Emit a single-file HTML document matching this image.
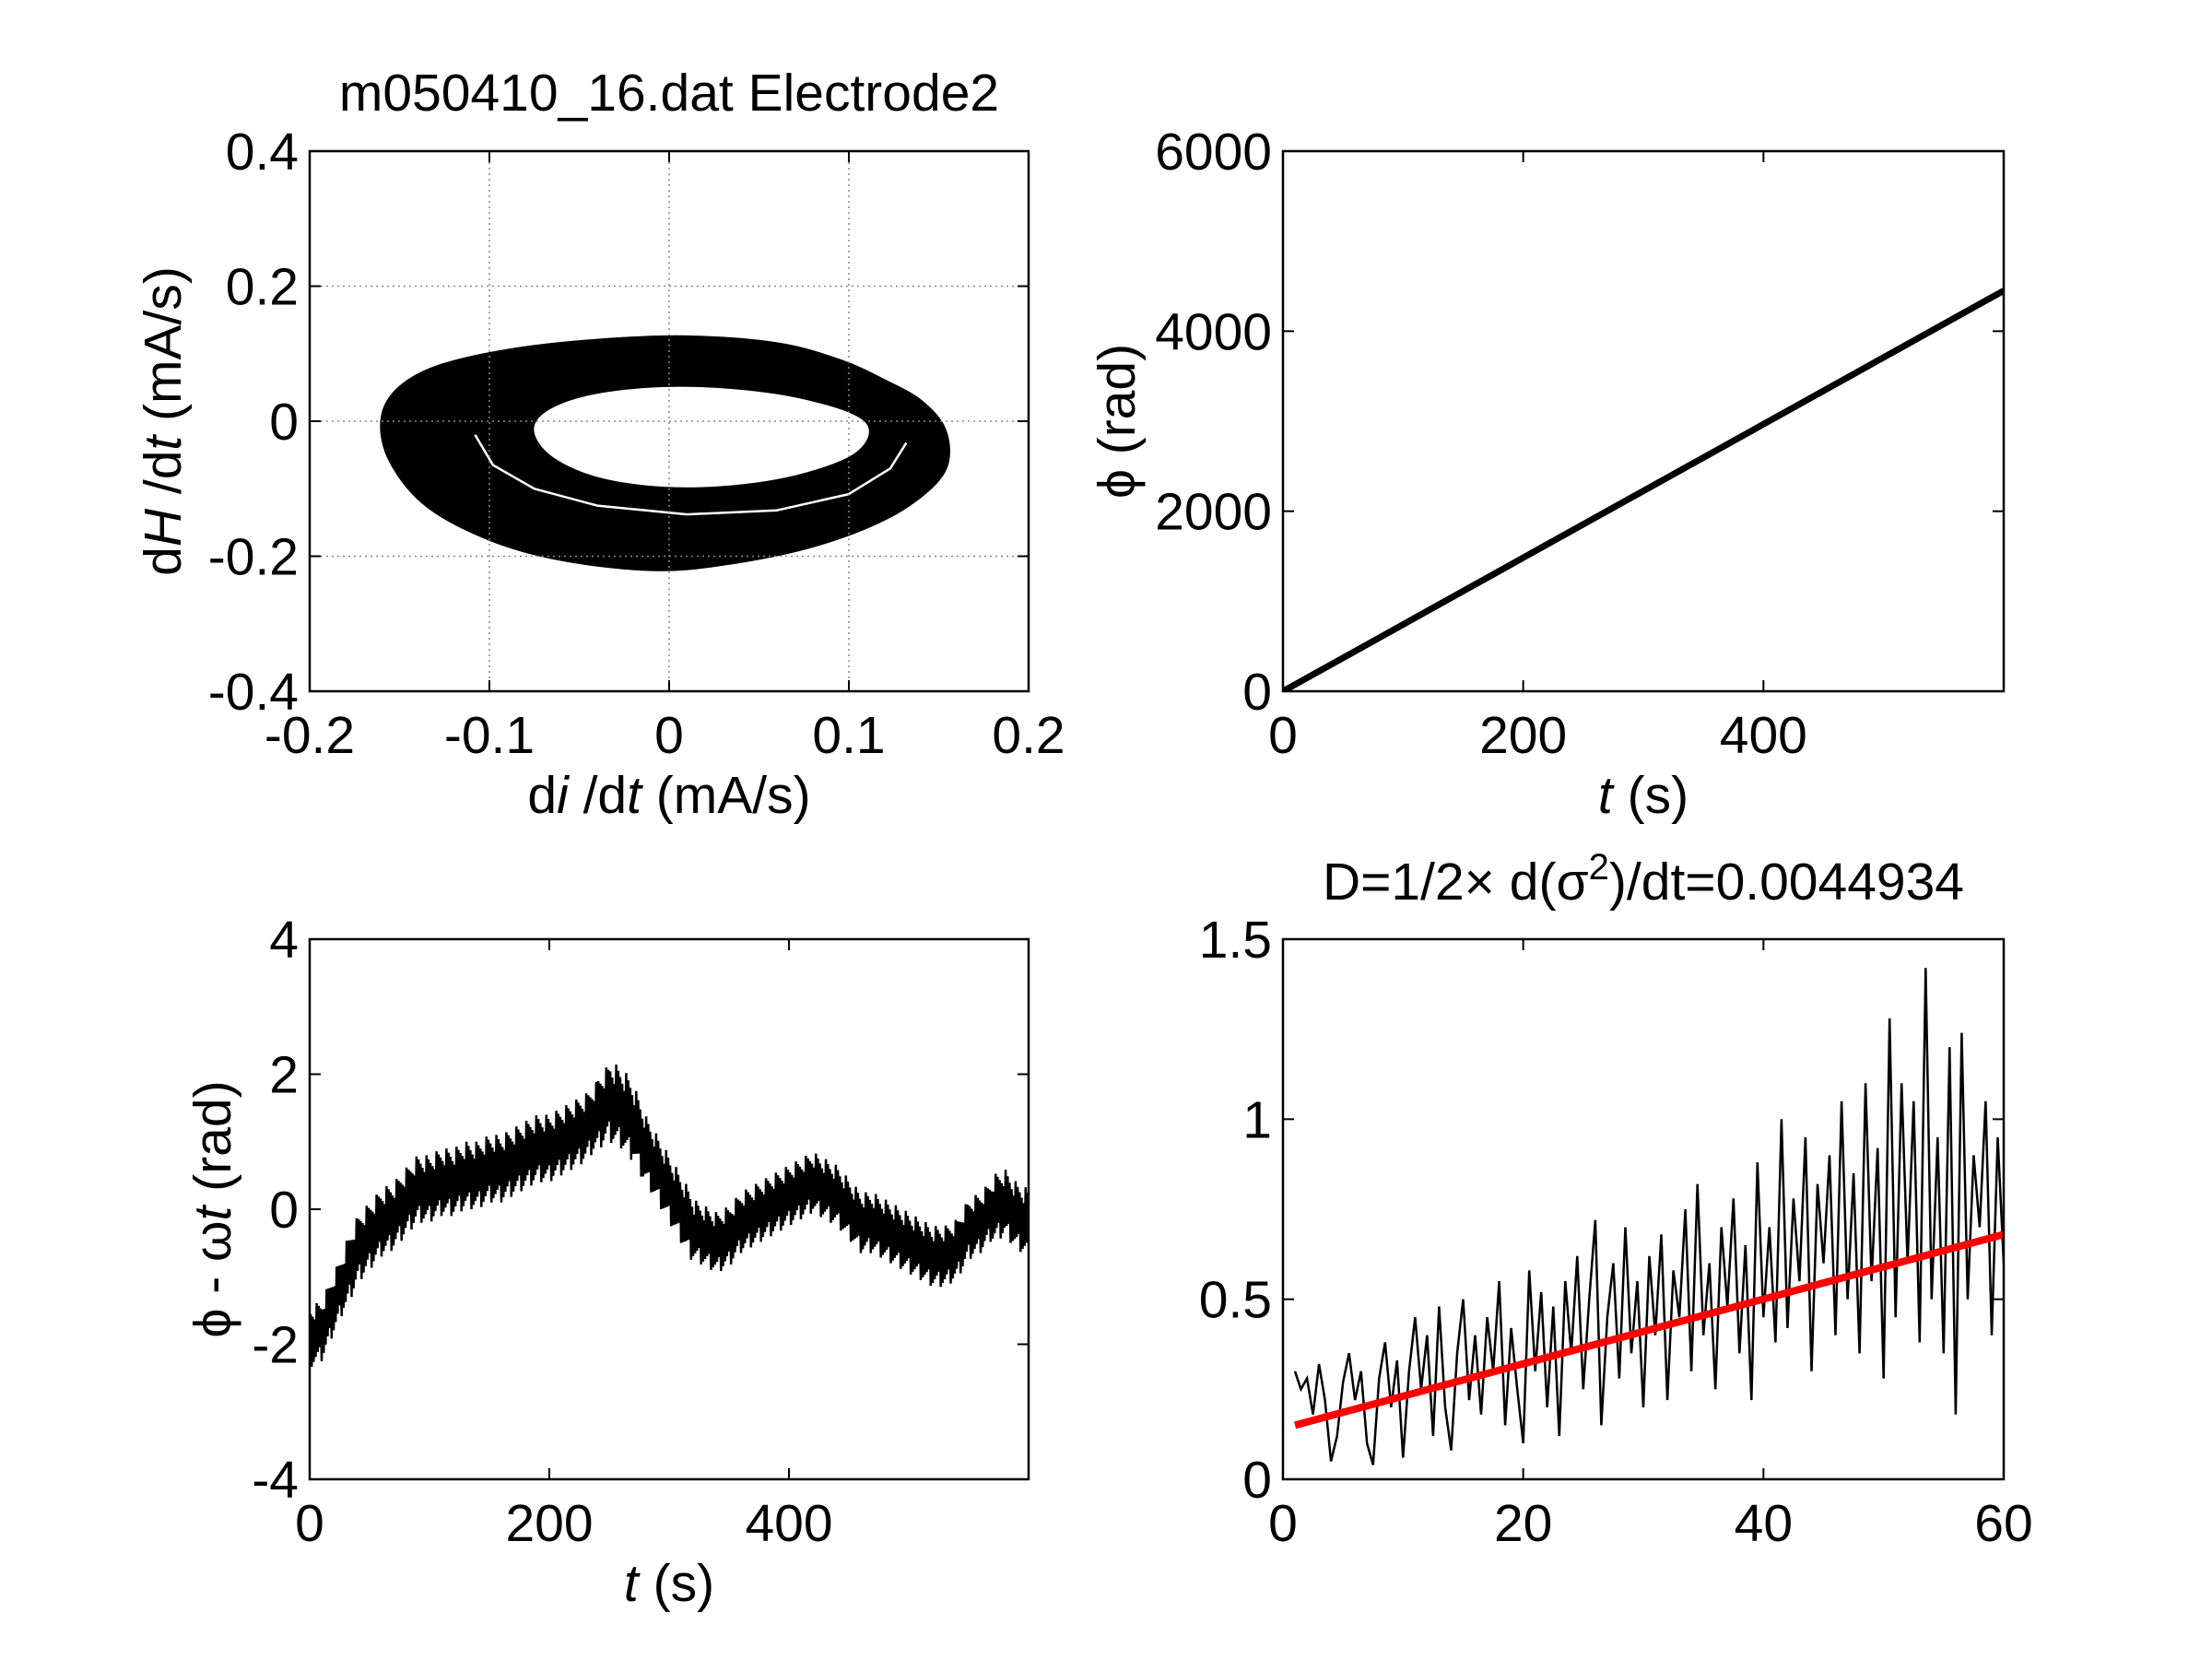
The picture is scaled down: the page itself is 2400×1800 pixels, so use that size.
<!DOCTYPE html>
<html><head><meta charset="utf-8">
<style>
html,body{margin:0;padding:0;background:#fff;}
svg{display:block;font-family:"Liberation Sans",Arial,sans-serif;}
</style></head>
<body>
<svg id="fig" width="2400" height="1800" viewBox="0 0 2400 1800">
  <rect width="2400" height="1800" fill="#fff"/>
  <text x="726" y="120" font-size="57" text-anchor="middle">m050410_16.dat Electrode2</text>
  <text x="1783" y="976" font-size="57" text-anchor="middle">D=1/2× d(σ<tspan dy="-22" font-size="40">2</tspan><tspan dy="22">)/dt=0.0044934</tspan></text>
  <text x="726" y="882" font-size="57" text-anchor="middle">d<tspan font-style="italic">i</tspan> /d<tspan font-style="italic">t</tspan> (mA/s)</text>
  <text x="1783" y="882" font-size="57" text-anchor="middle"><tspan font-style="italic">t</tspan> (s)</text>
  <text x="726" y="1737" font-size="57" text-anchor="middle"><tspan font-style="italic">t</tspan> (s)</text>
  <text transform="translate(196,457) rotate(-90)" font-size="57" text-anchor="middle">d<tspan font-style="italic">H</tspan> /d<tspan font-style="italic">t</tspan> (mA/s)</text>
  <text transform="translate(1231,457) rotate(-90)" font-size="57" text-anchor="middle">ϕ (rad)</text>
  <text transform="translate(250,1312) rotate(-90)" font-size="57" text-anchor="middle">ϕ - ω<tspan font-style="italic">t</tspan> (rad)</text>
  <g id="plots"></g>
</svg>
<script>
// ---- data ----
const ringOuterX = [-0.160,-0.152,-0.130,-0.090,-0.040,0.010,0.060,0.095,0.120,0.140,0.153,0.155,0.145,0.120,0.080,0.030,-0.010,-0.060,-0.100,-0.135,-0.155];
const ringOuterY = [0.000,0.045,0.080,0.105,0.120,0.125,0.115,0.090,0.060,0.030,-0.010,-0.060,-0.100,-0.145,-0.185,-0.212,-0.220,-0.205,-0.175,-0.125,-0.060];
const ringInnerX = [-0.076,-0.065,-0.035,0.010,0.060,0.100,0.112,0.100,0.060,0.010,-0.035,-0.065];
const ringInnerY = [-0.012,0.022,0.045,0.053,0.042,0.015,-0.015,-0.055,-0.088,-0.100,-0.088,-0.055];
const gapX = [-0.108,-0.098,-0.075,-0.040,0.010,0.060,0.100,0.123,0.132];
const gapY = [-0.020,-0.065,-0.100,-0.125,-0.138,-0.132,-0.108,-0.070,-0.032];
const phiT = [0, 600];
const phiV = [0, 4450];
const detT = [0,10,20,30,40,50,60,70,80,90,100,110,120,130,140,150,160,170,180,190,200,210,220,230,240,250,260,270,280,290,300,310,320,330,340,350,360,370,380,390,400,410,420,430,440,450,460,470,480,490,500,510,520,530,540,550,560,570,580,590,600];
const detV = [-1.9,-1.8,-1.4,-1.0,-0.6,-0.4,-0.2,-0.1,0.1,0.3,0.3,0.4,0.4,0.5,0.5,0.6,0.6,0.7,0.8,0.9,0.9,1.0,1.1,1.2,1.4,1.6,1.5,1.3,0.9,0.6,0.3,0.0,-0.3,-0.4,-0.5,-0.4,-0.2,-0.1,0.0,0.1,0.2,0.3,0.4,0.3,0.2,0.0,-0.2,-0.2,-0.3,-0.4,-0.5,-0.6,-0.7,-0.7,-0.6,-0.3,-0.2,0.0,0.1,-0.1,-0.2];
const detAmp = [0.45,0.45,0.45,0.5,0.5,0.5,0.5,0.5,0.5,0.5,0.5,0.5,0.5,0.5,0.5,0.5,0.5,0.5,0.5,0.5,0.5,0.5,0.5,0.5,0.55,0.6,0.6,0.55,0.5,0.5,0.5,0.5,0.45,0.45,0.45,0.45,0.45,0.45,0.45,0.45,0.45,0.45,0.45,0.45,0.45,0.45,0.45,0.45,0.45,0.45,0.45,0.45,0.45,0.45,0.45,0.45,0.45,0.5,0.5,0.5,0.5];
const msdV = [0.30,0.25,0.28,0.18,0.32,0.22,0.05,0.12,0.27,0.35,
0.22,0.30,0.10,0.04,0.28,0.38,0.20,0.33,0.06,0.30,
0.45,0.25,0.40,0.12,0.48,0.20,0.08,0.35,0.50,0.22,
0.40,0.18,0.45,0.30,0.55,0.15,0.42,0.25,0.10,0.58,
0.30,0.52,0.20,0.48,0.12,0.55,0.35,0.62,0.25,0.50,
0.72,0.15,0.45,0.60,0.28,0.70,0.35,0.55,0.20,0.62,
0.40,0.68,0.22,0.58,0.45,0.75,0.30,0.82,0.40,0.60,
0.25,0.70,0.48,0.78,0.35,0.65,0.22,0.88,0.45,0.70,
0.38,1.00,0.42,0.78,0.55,0.95,0.30,0.82,0.60,0.90,
0.40,1.05,0.50,0.85,0.35,1.10,0.55,0.92,0.28,1.28,
0.45,1.10,0.60,1.05,0.38,1.42,0.50,0.95,0.35,1.20,
0.18,1.24,0.50,0.90,0.70,1.05,0.40,0.95,0.60];
const msdT0 = 1, msdDT = 0.5;
const fitT = [1, 60];
const fitV = [0.15, 0.68];
const tlXTicks = [-0.2,-0.1,0,0.1,0.2], tlXLabels = ["-0.2","-0.1","0","0.1","0.2"];
const tlYTicks = [-0.4,-0.2,0,0.2,0.4], tlYLabels = ["-0.4","-0.2","0","0.2","0.4"];
const trXTicks = [0,200,400], trXLabels = ["0","200","400"];
const trYTicks = [0,2000,4000,6000], trYLabels = ["0","2000","4000","6000"];
const blYTicks = [-4,-2,0,2,4], blYLabels = ["-4","-2","0","2","4"];
const brXTicks = [0,20,40,60], brXLabels = ["0","20","40","60"];
const brYTicks = [0,0.5,1,1.5], brYLabels = ["0","0.5","1","1.5"];

const NS = "http://www.w3.org/2000/svg";
const root = document.getElementById('plots');
function mk(tag, attrs, parent){ const e=document.createElementNS(NS,tag); for(const k in attrs) e.setAttribute(k,attrs[k]); (parent||root).appendChild(e); return e; }

function axes(name, L, R, T, B, xmin, xmax, ymin, ymax, xt, xl, yt, yl, grid){
  const sx = v => L + (v-xmin)/(xmax-xmin)*(R-L);
  const sy = v => B - (v-ymin)/(ymax-ymin)*(B-T);
  const g = mk('g',{});
  
  
  const data = mk('g',{'clip-path':'url(#clip-'+name+')'}, g);
  const cp = mk('clipPath',{id:'clip-'+name}, g); mk('rect',{x:L,y:T,width:R-L,height:B-T},cp);
  const frame = mk('g',{}, g);
  xt.forEach((v,i)=>{
    const x=sx(v);
    if(grid){ const gl=mk('line',{x1:x,x2:x,y1:T,y2:B,stroke:'#888','stroke-width':1.5,'stroke-dasharray':'2,4'},frame);
        }
    mk('line',{x1:x,x2:x,y1:B,y2:B-12,stroke:'#000','stroke-width':2},frame);
    mk('line',{x1:x,x2:x,y1:T,y2:T+12,stroke:'#000','stroke-width':2},frame);
    const t=mk('text',{x:x,y:B+67,'font-size':57,'text-anchor':'middle'},frame); t.textContent=xl[i];
     
  });
  yt.forEach((v,i)=>{
    const y=sy(v);
    if(grid){ const gl=mk('line',{x1:L,x2:R,y1:y,y2:y,stroke:'#888','stroke-width':1.5,'stroke-dasharray':'2,4'},frame);
        }
    mk('line',{x1:L,x2:L+12,y1:y,y2:y,stroke:'#000','stroke-width':2},frame);
    mk('line',{x1:R,x2:R-12,y1:y,y2:y,stroke:'#000','stroke-width':2},frame);
    const t=mk('text',{x:L-12,y:y+20,'font-size':57,'text-anchor':'end'},frame); t.textContent=yl[i];
     
  });
  const box = mk('rect',{x:L,y:T,width:R-L,height:B-T,fill:'none',stroke:'#000','stroke-width':2.5},frame);
   
  return {sx,sy,data};
}

function smoothClosed(xs,ys,ax){
  const P=xs.map((x,i)=>[ax.sx(x),ax.sy(ys[i])]); const n=P.length;
  let d='M'+P[0][0].toFixed(1)+','+P[0][1].toFixed(1);
  for(let i=0;i<n;i++){
    const p0=P[(i-1+n)%n],p1=P[i],p2=P[(i+1)%n],p3=P[(i+2)%n];
    const c1=[p1[0]+(p2[0]-p0[0])/6,p1[1]+(p2[1]-p0[1])/6], c2=[p2[0]-(p3[0]-p1[0])/6,p2[1]-(p3[1]-p1[1])/6];
    d+='C'+c1.map(v=>v.toFixed(1)).join(',')+' '+c2.map(v=>v.toFixed(1)).join(',')+' '+p2[0].toFixed(1)+','+p2[1].toFixed(1);
  }
  return d+'Z';
}

// Top-left: phase portrait
const A1 = axes('phase-portrait-axes',336,1116,164,750,-0.2,0.2,-0.4,0.4,tlXTicks,tlXLabels,tlYTicks,tlYLabels,true);
const ring = mk('path',{d:smoothClosed(ringOuterX,ringOuterY,A1)+smoothClosed(ringInnerX,ringInnerY,A1),'fill-rule':'evenodd',fill:'#000',stroke:'#000','stroke-width':3,'stroke-linejoin':'round'},A1.data);


const gap = mk('path',{d:gapX.map((x,i)=>(i?'L':'M')+A1.sx(x).toFixed(1)+','+A1.sy(gapY[i]).toFixed(1)).join(''),fill:'none',stroke:'#fff','stroke-width':2.5,'stroke-linejoin':'round'},A1.data);



// Top-right: phi vs t
const A2 = axes('phi-axes',1392,2174,164,750,0,600,0,6000,trXTicks,trXLabels,trYTicks,trYLabels,false);
const pl = mk('polyline',{points:phiT.map((t,i)=>A2.sx(t)+','+A2.sy(phiV[i])).join(' '),fill:'none',stroke:'#000','stroke-width':7},A2.data);



// Bottom-left: detrended phase
const A3 = axes('detrended-axes',336,1116,1019,1605,0,600,-4,4,trXTicks,trXLabels,blYTicks,blYLabels,false);
let pts=[]; let k=0;
for(let i=0;i<detT.length-1;i++){
  for(let s=0;s<12;s++){
    const f=s/12, t=detT[i]+f*(detT[i+1]-detT[i]);
    const c=detV[i]+f*(detV[i+1]-detV[i]), a=detAmp[i];
    const v=c+((k%2)?a:-a)*(0.5+0.5*((k*7)%5)/4);
    pts.push(A3.sx(t).toFixed(1)+','+A3.sy(v).toFixed(1)); k++;
  }
}
const dl = mk('polyline',{points:pts.join(' '),fill:'none',stroke:'#000','stroke-width':2.5},A3.data);



// Bottom-right: MSD
const A4 = axes('msd-axes',1392,2174,1019,1605,0,60,0,1.5,brXTicks,brXLabels,brYTicks,brYLabels,false);
const ml = mk('polyline',{points:msdV.map((v,i)=>A4.sx(msdT0+i*msdDT).toFixed(1)+','+A4.sy(v).toFixed(1)).join(' '),fill:'none',stroke:'#000','stroke-width':2.5},A4.data);


const fl = mk('line',{x1:A4.sx(fitT[0]),y1:A4.sy(fitV[0]),x2:A4.sx(fitT[1]),y2:A4.sy(fitV[1]),stroke:'#ff0000','stroke-width':8},A4.data);


</script>
</body></html>
